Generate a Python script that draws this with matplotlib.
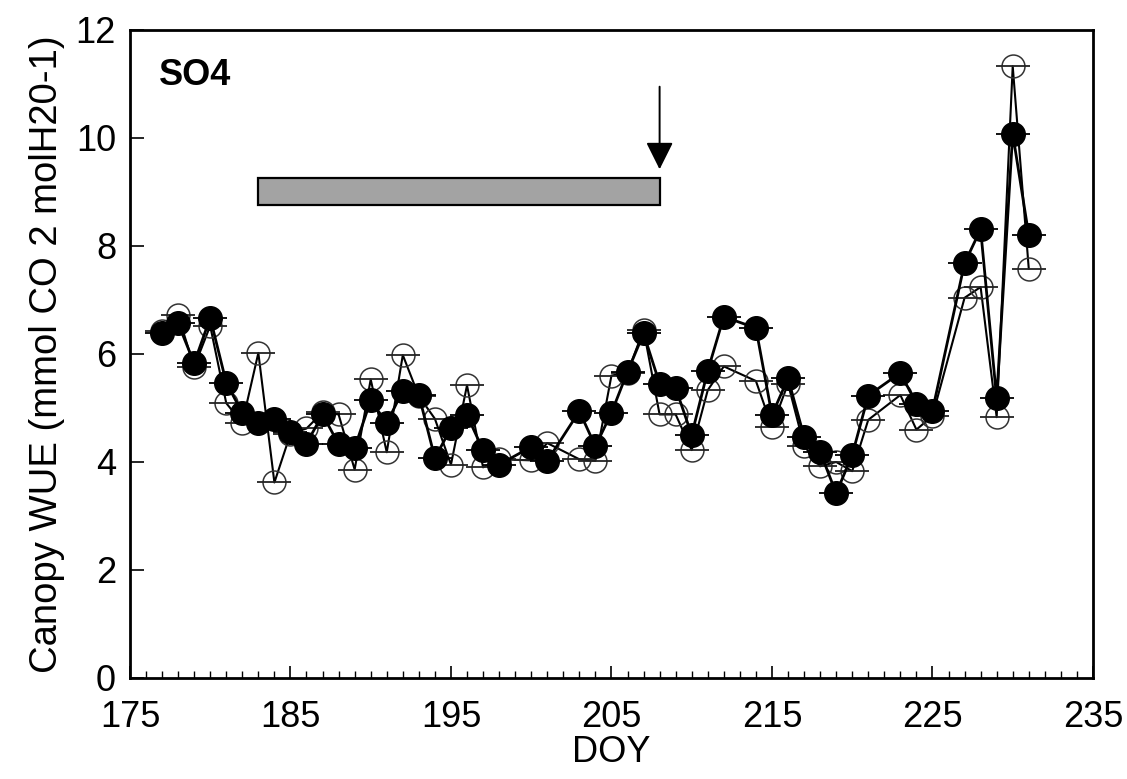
import numpy as np
import matplotlib
matplotlib.use("Agg")
import matplotlib.pyplot as plt
from matplotlib.patches import Rectangle

plt.rcParams['font.family'] = ['Liberation Sans', 'DejaVu Sans']

# --- data --------------------------------------------------------
days = [177, 178, 179, 180, 181, 182, 183, 184, 185, 186, 187, 188, 189, 190,
        191, 192, 193, 194, 195, 196, 197, 198, 200, 201, 203, 204, 205, 206,
        207, 208, 209, 210, 211, 212, 214, 215, 216, 217, 218, 219, 220, 221,
        223, 224, 225, 227, 228, 229, 230, 231]

wue_filled = [6.38, 6.57, 5.83, 6.67, 5.47, 4.91, 4.72, 4.79, 4.56, 4.34, 4.88,
              4.33, 4.26, 5.14, 4.72, 5.32, 5.24, 4.07, 4.63, 4.87, 4.22, 3.95,
              4.28, 4.02, 4.94, 4.29, 4.91, 5.67, 6.38, 5.45, 5.37, 4.50, 5.69,
              6.69, 6.48, 4.87, 5.55, 4.47, 4.19, 3.42, 4.13, 5.23, 5.65, 5.08,
              4.95, 7.68, 8.31, 5.18, 10.08, 8.20]

wue_open = [6.42, 6.72, 5.76, 6.52, 5.09, 4.72, 6.02, 3.62, 4.52, 4.62, 4.92,
            4.88, 3.86, 5.53, 4.18, 5.98, 5.22, 4.80, 3.95, 5.42, 3.90, 4.05,
            4.03, 4.35, 4.05, 4.02, 5.60, 5.65, 6.45, 4.88, 4.88, 4.22, 5.33,
            5.77, 5.50, 4.65, 5.45, 4.30, 3.92, 4.00, 3.83, 4.78, 5.24, 4.60,
            4.85, 7.04, 7.24, 4.83, 11.33, 7.58]

bar_start, bar_end = 183, 208
bar_low, bar_high = 8.75, 9.25
arrow_day = 208
arrow_top, arrow_tip = 10.95, 9.42

# --- plot ---------------------------------------------------------
fig = plt.figure(figsize=(11.27, 7.79), dpi=100)
ax = fig.add_axes([0.1153, 0.1297, 0.8545, 0.8318])

# open series (drawn first)
ax.plot(days, wue_open, color='black', lw=1.5, zorder=2)
ax.plot(days, wue_open, ls='none', marker='o', ms=16.5, mfc='none',
        mec='#333333', mew=1.1, zorder=3)
ax.plot(days, wue_open, ls='none', marker='_', ms=24, mec='#222222',
        mew=1.3, zorder=3)

# filled series
ax.plot(days, wue_filled, color='black', lw=2, zorder=4)
ax.plot(days, wue_filled, ls='none', marker='o', ms=17, mfc='black',
        mec='black', zorder=5)
ax.plot(days, wue_filled, ls='none', marker='_', ms=24, mec='black',
        mew=1.3, zorder=5)

# treatment bar and arrow
ax.add_patch(Rectangle((bar_start, bar_low), bar_end - bar_start,
                       bar_high - bar_low, facecolor='#a3a3a3',
                       edgecolor='black', lw=1.6, zorder=1))
ax.annotate('', xy=(arrow_day, arrow_tip), xytext=(arrow_day, arrow_top),
            arrowprops=dict(arrowstyle='-|>', color='black', lw=1.4,
                            mutation_scale=42, shrinkA=0, shrinkB=0))

ax.text(176.8, 11.15, 'SO4', fontsize=26, fontweight='bold', va='center')

ax.set_xlim(175, 235)
ax.set_ylim(0, 12)
ax.set_xticks(np.arange(175, 236, 10))
ax.set_xticks(np.arange(175, 236, 1), minor=True)
ax.set_yticks(np.arange(0, 13, 2))

ax.set_xticklabels([str(v) for v in range(175, 236, 10)], fontsize=26)
ax.set_yticklabels([str(v) for v in range(0, 13, 2)], fontsize=26)
ax.tick_params(axis='x', which='major', direction='in', length=9, width=1.2,
               pad=16)
ax.tick_params(axis='x', which='minor', direction='in', length=5, width=1)
ax.tick_params(axis='y', which='major', direction='in', length=10, width=1.2,
               pad=10)
for s in ax.spines.values():
    s.set_linewidth(2)

ax.set_xlabel('DOY', fontsize=26, labelpad=0)
ax.set_ylabel('Canopy WUE (mmol CO 2 molH20-1)', fontsize=27.5, labelpad=8)

fig.savefig('out.png', dpi=100)
